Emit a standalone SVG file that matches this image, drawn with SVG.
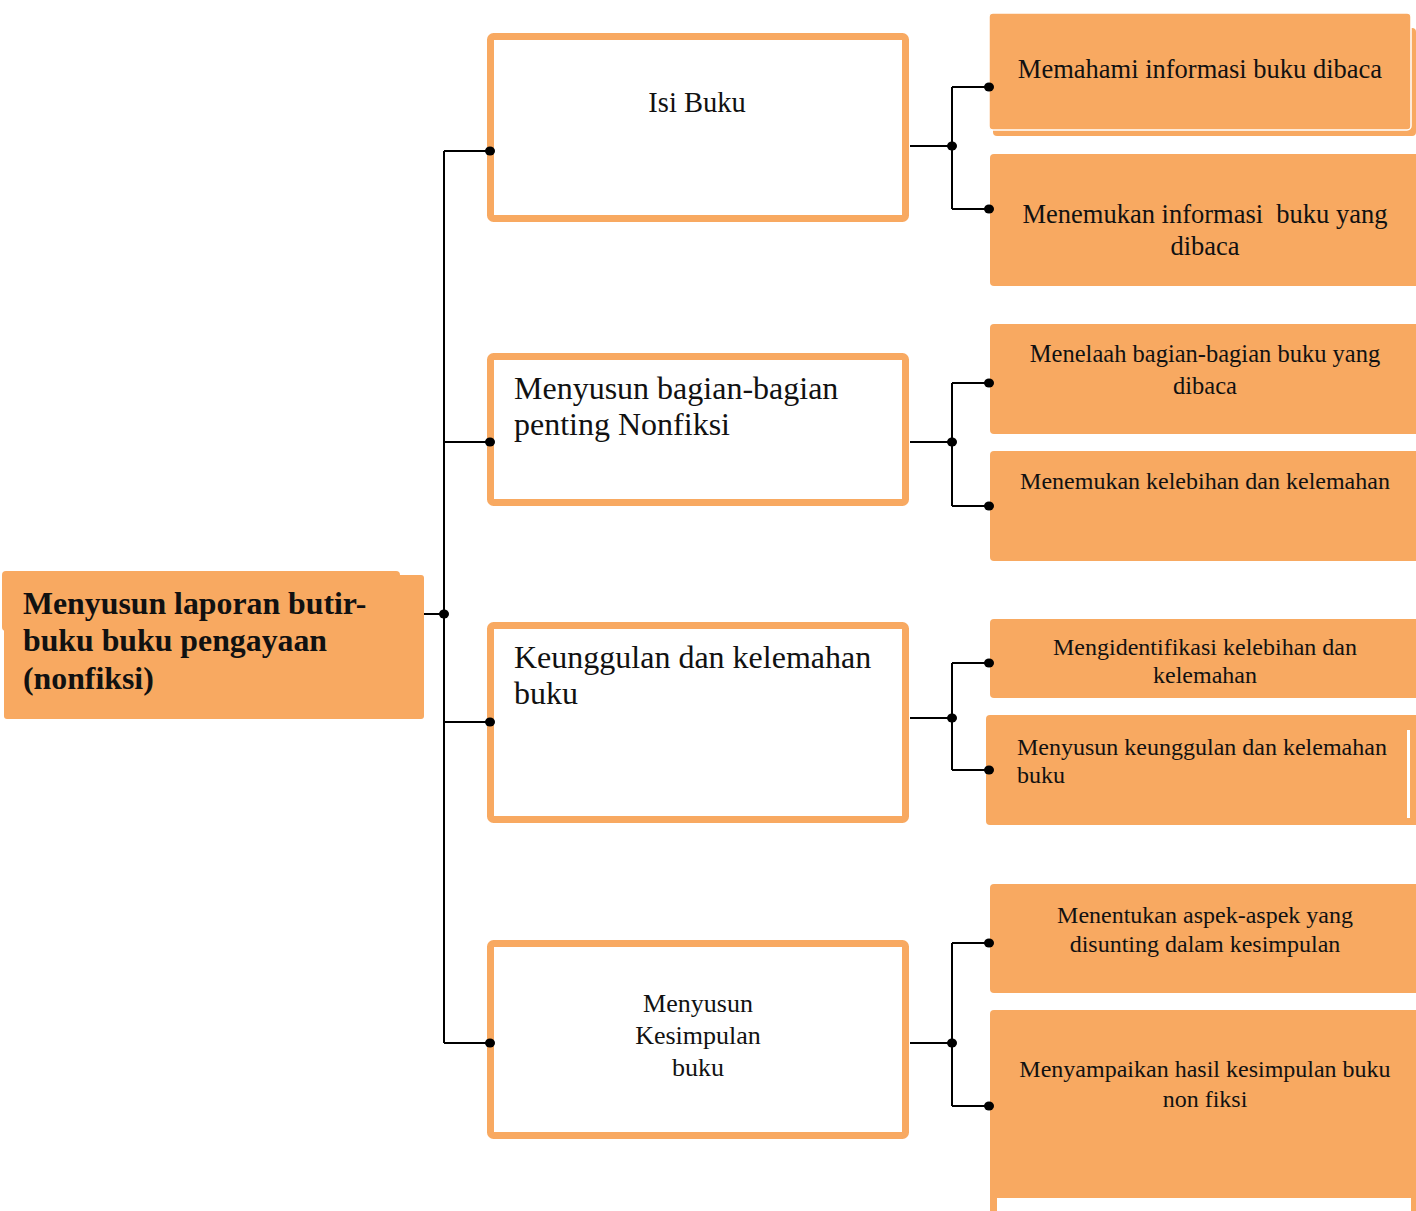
<svg xmlns="http://www.w3.org/2000/svg" width="1416" height="1211" viewBox="0 0 1416 1211">
<style>
.o{fill:#F8A961;}
.mid{fill:#fff;stroke:#F8A961;stroke-width:7;}
.t{font-family:"Liberation Serif","Times New Roman",serif;fill:#111;}
.c{text-anchor:middle;}
.ln{fill:none;stroke:#000;stroke-width:2;}
</style>
<rect width="1416" height="1211" fill="#fff"/>
<g id="root">
<rect class="o" x="2" y="571" width="398" height="60" rx="4"/>
<rect class="o" x="4" y="575" width="420" height="144" rx="3"/>
<text class="t" font-weight="bold" font-size="31.8" x="23" y="614">Menyusun laporan butir-</text>
<text class="t" font-weight="bold" font-size="31.8" x="23" y="651">buku buku pengayaan</text>
<text class="t" font-weight="bold" font-size="31.8" x="23" y="689">(nonfiksi)</text>
</g>
<g id="isi-buku">
<rect class="mid" x="490.5" y="36.5" width="415" height="182" rx="3"/>
<text class="t c" font-size="28.5" x="697" y="112">Isi Buku</text>
</g>
<g id="bagian-penting">
<rect class="mid" x="490.5" y="356.5" width="415" height="146" rx="3"/>
<text class="t" font-size="32" x="514" y="399">Menyusun bagian-bagian</text>
<text class="t" font-size="32" x="514" y="435">penting Nonfiksi</text>
</g>
<g id="keunggulan">
<rect class="mid" x="490.5" y="625.5" width="415" height="194" rx="3"/>
<text class="t" font-size="32" x="514" y="668">Keunggulan dan kelemahan</text>
<text class="t" font-size="32" x="514" y="704">buku</text>
</g>
<g id="kesimpulan">
<rect class="mid" x="490.5" y="943.5" width="415" height="192" rx="3"/>
<text class="t c" font-size="26" x="698" y="1012">Menyusun</text>
<text class="t c" font-size="26" x="698" y="1044">Kesimpulan</text>
<text class="t c" font-size="26" x="698" y="1076">buku</text>
</g>
<g id="r1">
<rect class="o" x="993" y="28" width="423" height="108" rx="4"/>
<rect class="o" x="989" y="13" width="422" height="117" rx="4" stroke="#fff" stroke-width="1.5"/>
<text class="t c" font-size="26.5" x="1200" y="78">Memahami informasi buku dibaca</text>
</g>
<g id="r2">
<rect class="o" x="990" y="154" width="430" height="132" rx="4"/>
<text class="t c" font-size="26.5" x="1205" y="223" xml:space="preserve">Menemukan informasi  buku yang</text>
<text class="t c" font-size="26.5" x="1205" y="255">dibaca</text>
</g>
<g id="r3">
<rect class="o" x="990" y="324" width="430" height="110" rx="4"/>
<text class="t c" font-size="24.5" x="1205" y="362">Menelaah bagian-bagian buku yang</text>
<text class="t c" font-size="24.5" x="1205" y="394">dibaca</text>
</g>
<g id="r4">
<rect class="o" x="990" y="451" width="430" height="110" rx="4"/>
<text class="t c" font-size="24" x="1205" y="489">Menemukan kelebihan dan kelemahan</text>
</g>
<g id="r5">
<rect class="o" x="990" y="619" width="430" height="79" rx="4"/>
<text class="t c" font-size="24" x="1205" y="655">Mengidentifikasi kelebihan dan</text>
<text class="t c" font-size="24" x="1205" y="683">kelemahan</text>
</g>
<g id="r6">
<rect class="o" x="986" y="715" width="434" height="110" rx="4"/>
<rect x="1407" y="730" width="3" height="88" fill="#fff"/>
<text class="t" font-size="24" x="1017" y="755">Menyusun keunggulan dan kelemahan</text>
<text class="t" font-size="24" x="1017" y="783">buku</text>
</g>
<g id="r7">
<rect class="o" x="990" y="884" width="430" height="109" rx="4"/>
<text class="t c" font-size="24" x="1205" y="923">Menentukan aspek-aspek yang</text>
<text class="t c" font-size="24" x="1205" y="952">disunting dalam kesimpulan</text>
</g>
<g id="r8">
<rect class="o" x="990" y="1010" width="430" height="205" rx="4"/>
<rect x="997" y="1198" width="414" height="13" fill="#fff"/>
<text class="t c" font-size="24" x="1205" y="1077">Menyampaikan hasil kesimpulan buku</text>
<text class="t c" font-size="24" x="1205" y="1107">non fiksi</text>
</g>
<g id="connectors">
<path class="ln" d="M424 614H444M444 151V1043M444 151H490M444 442H490M444 722H490M444 1043H490"/>
<path class="ln" d="M910 146H952M952 87V209M952 87H989M952 209H989"/>
<path class="ln" d="M910 442H952M952 383V506M952 383H989M952 506H989"/>
<path class="ln" d="M910 718H952M952 663V770M952 663H989M952 770H989"/>
<path class="ln" d="M910 1043H952M952 943V1106M952 943H989M952 1106H989"/>
<g fill="#000">
<ellipse cx="444" cy="614" rx="5" ry="4.5"/>
<ellipse cx="490" cy="151" rx="5" ry="4.5"/>
<ellipse cx="490" cy="442" rx="5" ry="4.5"/>
<ellipse cx="490" cy="722" rx="5" ry="4.5"/>
<ellipse cx="490" cy="1043" rx="5" ry="4.5"/>
<ellipse cx="952" cy="146" rx="5" ry="4.5"/>
<ellipse cx="952" cy="442" rx="5" ry="4.5"/>
<ellipse cx="952" cy="718" rx="5" ry="4.5"/>
<ellipse cx="952" cy="1043" rx="5" ry="4.5"/>
<ellipse cx="989" cy="87" rx="5" ry="4.5"/>
<ellipse cx="989" cy="209" rx="5" ry="4.5"/>
<ellipse cx="989" cy="383" rx="5" ry="4.5"/>
<ellipse cx="989" cy="506" rx="5" ry="4.5"/>
<ellipse cx="989" cy="663" rx="5" ry="4.5"/>
<ellipse cx="989" cy="770" rx="5" ry="4.5"/>
<ellipse cx="989" cy="943" rx="5" ry="4.5"/>
<ellipse cx="989" cy="1106" rx="5" ry="4.5"/>
</g>
</g>
</svg>
